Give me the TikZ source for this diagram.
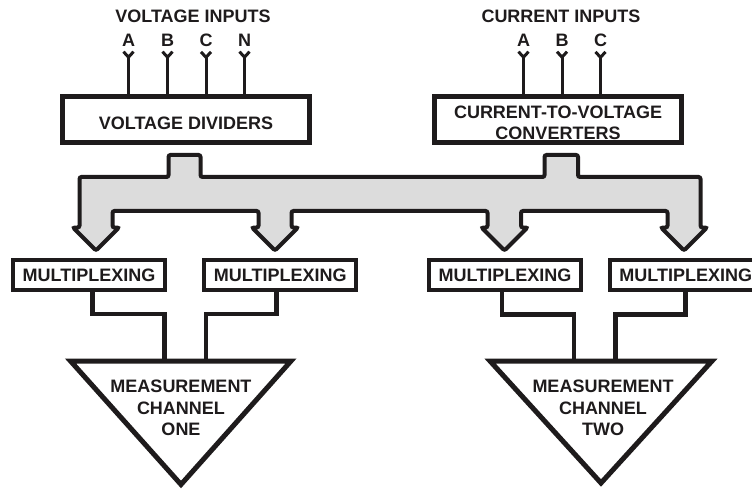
\documentclass[tikz,border=0pt]{standalone}
\usepackage{fontspec}
\setmainfont{Liberation Sans}
\usetikzlibrary{arrows.meta}
\definecolor{ink}{RGB}{30,27,28}
\definecolor{busgray}{RGB}{220,220,220}
\tikzset{
    txt/.style={font=\bfseries\fontsize{18}{21.5}\selectfont, text=ink, align=center},
    block/.style={txt, rectangle, draw=ink, line width=4.5pt, minimum width=247pt, minimum height=46pt, inner sep=0pt, text height=19.5pt},
    muxbox/.style={txt, rectangle, draw=ink, line width=4pt, minimum width=152pt, minimum height=30pt, inner sep=0pt},
    inlbl/.style={txt, anchor=base, inner sep=2pt},
    inwire/.style={draw=ink, line width=3pt, {Straight Barb[reversed, length=5.5pt, width=10pt, line width=3pt]}-, shorten <=1pt},
    wire/.style={draw=ink, line width=4.5pt},
    bus/.style={draw=ink, fill=busgray, line width=4pt, rounded corners=2pt},
    chan/.style={draw=ink, line width=5pt, line join=miter}
}

\begin{document}
\begin{tikzpicture}[x=1pt, y=-1pt]
    \useasboundingbox (0,0) rectangle (752,489);

    % Voltage inputs
    \node[txt, anchor=base] (VIn_label) at (193,23) {VOLTAGE INPUTS};
    \node[inlbl] (VIn_A) at (128.5,47) {A};
    \node[inlbl] (VIn_B) at (167.5,47) {B};
    \node[inlbl] (VIn_C) at (206,47) {C};
    \node[inlbl] (VIn_N) at (244.5,47) {N};
    \node[block] (VD_box) at (186,119.5) {VOLTAGE DIVIDERS};
    \foreach \p in {A,B,C,N}
        \draw[inwire] (VIn_\p) -- (VIn_\p |- VD_box.north);

    % Current inputs
    \node[txt, anchor=base] (CIn_label) at (561,23) {CURRENT INPUTS};
    \node[inlbl] (CIn_A) at (523.5,47) {A};
    \node[inlbl] (CIn_B) at (562,47) {B};
    \node[inlbl] (CIn_C) at (600.5,47) {C};
    \node[block, text height=41pt] (CV_box) at (558,119.5) {CURRENT-TO-VOLTAGE\\CONVERTERS};
    \foreach \p in {A,B,C}
        \draw[inwire] (CIn_\p) -- (CIn_\p |- CV_box.north);

    % Signal bus
    \draw[bus] (168.5,155) -- (200.5,155) -- (200.5,177) -- (544.5,177) -- (544.5,155)
        -- (578,155) -- (578,177) -- (700.5,177) -- (700.5,227.5)
        -- (707,227.5) -- (684,250.5) -- (661,227.5) -- (667.5,227.5) -- (667.5,211)
        -- (521,211) -- (521,227.5) -- (527.5,227.5) -- (504.5,250.5) -- (481.5,227.5)
        -- (487.5,227.5) -- (487.5,211) -- (291.5,211) -- (291.5,227.5) -- (298,227.5)
        -- (275,250.5) -- (252,227.5) -- (258.5,227.5) -- (258.5,211) -- (112.5,211)
        -- (112.5,227.5) -- (119,227.5) -- (96,250.5) -- (73,227.5) -- (79.5,227.5)
        -- (79.5,177) -- (168.5,177) -- cycle;

    % Multiplexing
    \node[muxbox] (Mux1) at (89,275) {MULTIPLEXING};
    \node[muxbox] (Mux2) at (280.3,275) {MULTIPLEXING};
    \node[muxbox] (Mux3) at (505,275) {MULTIPLEXING};
    \node[muxbox] (Mux4) at (685.7,275) {MULTIPLEXING};

    % Measurement channels
    \coordinate (Ch1_in1) at (164.5,361);
    \coordinate (Ch1_in2) at (206,361);
    \coordinate (Ch2_in1) at (574,361);
    \coordinate (Ch2_in2) at (615.5,361);
    \draw[wire] ([xshift=3.5pt]Mux1.south) -- ++(0,22) -| (Ch1_in1);
    \draw[wire] ([xshift=-3.8pt]Mux2.south) -- ++(0,22) -| (Ch1_in2);
    \draw[wire] ([xshift=-3pt]Mux3.south) -- ++(0,22.5) -| (Ch2_in1);
    \draw[wire] (Mux4.south) -- ++(0,22.5) -| (Ch2_in2);

    \draw[chan] (70.5,361) -- (291,361) -- (181,484.5) -- cycle;
    \node[txt, inner sep=0pt] (Ch1_text) at (181,408) {MEASUREMENT\\CHANNEL\\ONE};
    \draw[chan] (490,361) -- (712,361) -- (601,483) -- cycle;
    \node[txt, inner sep=0pt] (Ch2_text) at (603,408) {MEASUREMENT\\CHANNEL\\TWO};
\end{tikzpicture}
\end{document}
